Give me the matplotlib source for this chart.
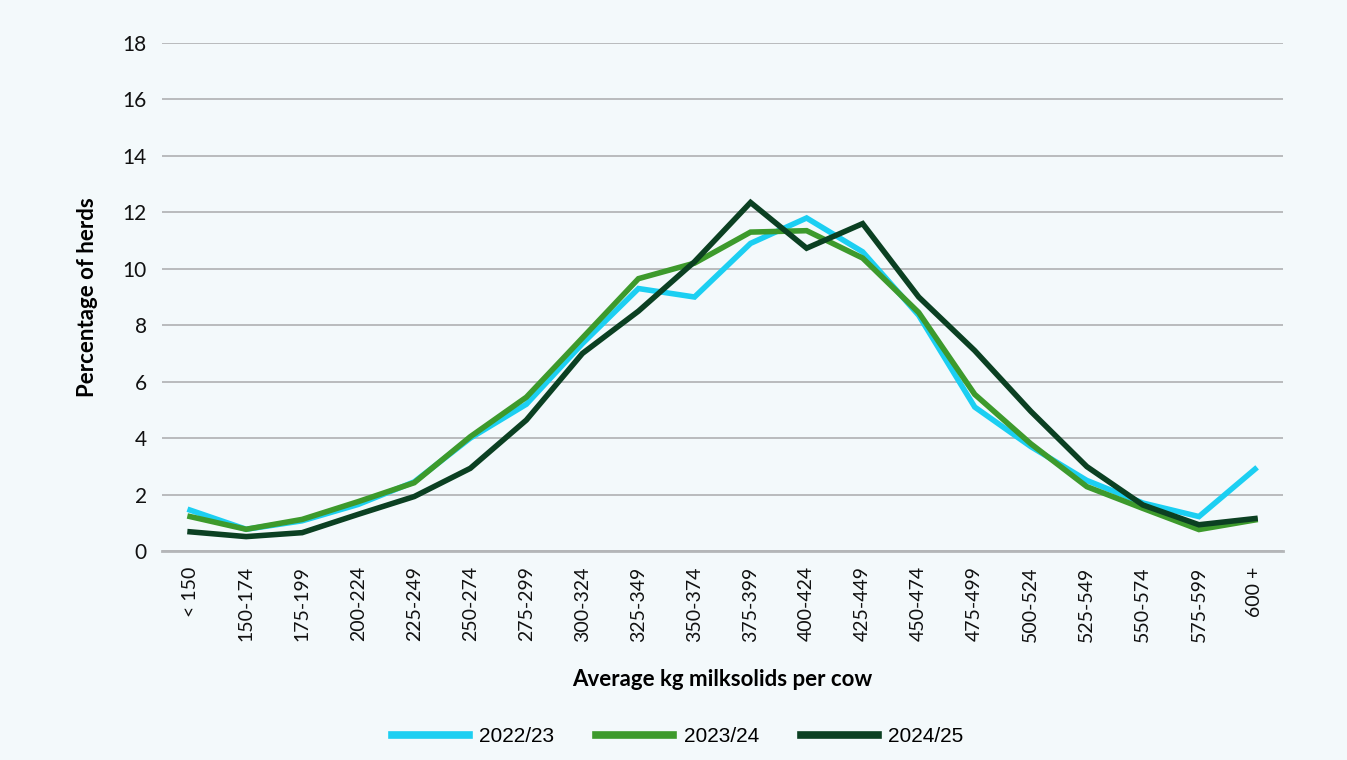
import matplotlib
matplotlib.use("Agg")
import matplotlib.pyplot as plt
import numpy as np

# Milksolids bands
bands = ["< 150", "150-174", "175-199", "200-224", "225-249", "250-274", "275-299",
         "300-324", "325-349", "350-374", "375-399", "400-424", "425-449", "450-474",
         "475-499", "500-524", "525-549", "550-574", "575-599", "600 +"]

# Percentage of herds per season
s2022 = [1.45, 0.77, 1.07, 1.65, 2.45, 4.0, 5.2, 7.35, 9.3, 9.0, 10.9, 11.8, 10.6,
         8.35, 5.1, 3.7, 2.5, 1.7, 1.22, 2.9]
s2023 = [1.22, 0.77, 1.12, 1.75, 2.42, 4.05, 5.45, 7.55, 9.65, 10.2, 11.3, 11.35, 10.38,
         8.45, 5.55, 3.8, 2.28, 1.51, 0.76, 1.1]
s2024 = [0.68, 0.51, 0.65, 1.3, 1.93, 2.93, 4.64, 7.0, 8.5, 10.25, 12.35, 10.73, 11.6,
         9.0, 7.1, 4.95, 2.99, 1.63, 0.93, 1.15]

series = [("2022/23", s2022, "#1ccff2"),
          ("2023/24", s2023, "#3d9a2c"),
          ("2024/25", s2024, "#0b4022")]

bg = "#f3f9fb"
fig = plt.figure(figsize=(13.47, 7.6), dpi=100, facecolor=bg)
ax = fig.add_axes([0.1203, 0.275, 0.8322, 0.6684], facecolor=bg)

x = np.arange(len(bands))
for name, vals, col in series:
    ax.plot(x, vals, color=col, lw=4.0, label=name, solid_joinstyle="miter")

ax.set_xlim(-0.5, len(bands) - 0.5)
ax.set_ylim(0, 18)
ax.set_yticks(range(0, 19, 2))
ax.yaxis.grid(True, color="#b4b6b8", lw=1.3)
ax.set_axisbelow(True)
for s in ["top", "right", "left"]:
    ax.spines[s].set_visible(False)
ax.spines["bottom"].set_color("#b4b6b8")
ax.spines["bottom"].set_linewidth(2)
ax.tick_params(length=0)
ax.tick_params(axis="y", pad=11, labelsize=15, labelcolor="#111111")
ax.set_xticks(x)
ax.set_xticklabels(bands, rotation=90, fontsize=14, color="#111111")
ax.tick_params(axis="x", pad=11)
for lbl in ax.get_yticklabels() + ax.get_xticklabels():
    lbl.set_family("Lato")

ax.set_ylabel("Percentage of herds", fontsize=16, fontweight="bold", family="Lato",
              labelpad=18)
ax.set_xlabel("Average kg milksolids per cow", fontsize=16, fontweight="bold",
              family="Lato", labelpad=20)

leg = fig.legend(loc="center", bbox_to_anchor=(0.503, 0.031), ncol=3, frameon=False,
                 handlelength=3.7, columnspacing=2.0, handletextpad=0.5,
                 prop={"family": "Liberation Sans", "size": 15})
for h in leg.get_lines():
    h.set_linewidth(5.5)

fig.savefig("out.png", dpi=100, facecolor=bg)
